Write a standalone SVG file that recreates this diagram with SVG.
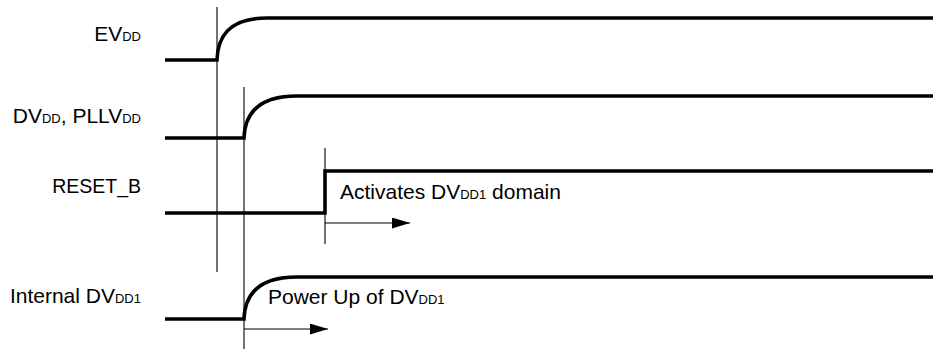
<svg xmlns="http://www.w3.org/2000/svg" width="933" height="349" viewBox="0 0 933 349">
  <style>
    .sig { fill: none; stroke: #000; stroke-width: 3.6; stroke-linejoin: miter; }
    .mark { fill: none; stroke: #000; stroke-width: 1.1; }
    .lbl { font-family: "Liberation Sans", Arial, sans-serif; font-size: 21px; fill: #000; }
    .sub { font-size: 13px; }
  </style>
  <defs>
    <marker id="arrow" markerWidth="18" markerHeight="11" refX="18" refY="5.5" orient="auto" markerUnits="userSpaceOnUse">
      <path d="M0,0 L18,5.5 L0,11 Z" fill="#000"/>
    </marker>
  </defs>

  <rect width="933" height="349" fill="#fff"/>

  <!-- signal labels -->
  <g id="label-evdd">
    <text class="lbl" x="141" y="41" text-anchor="end">EV<tspan class="sub">DD</tspan></text>
  </g>
  <g id="label-dvdd">
    <text class="lbl" x="141" y="123" text-anchor="end">DV<tspan class="sub">DD</tspan>, PLLV<tspan class="sub">DD</tspan></text>
  </g>
  <g id="label-reset">
    <text class="lbl" x="141" y="193" text-anchor="end" style="font-size:19.5px">RESET_B</text>
  </g>
  <g id="label-internal">
    <text class="lbl" x="141" y="303" text-anchor="end">Internal DV<tspan class="sub">DD1</tspan></text>
  </g>

  <!-- waveforms -->
  <g id="wave-evdd">
    <path class="sig" d="M165,60 H217 C218,30 236,18 267,18 H933"/>
  </g>
  <g id="wave-dvdd">
    <path class="sig" d="M165,138 H244 C245,108 265,96 297,96 H933"/>
  </g>
  <g id="wave-reset">
    <path class="sig" d="M165,213 H325 V171 H933"/>
  </g>
  <g id="wave-internal">
    <path class="sig" d="M165,319 H244 C245,289 265,277 297,277 H933"/>
  </g>

  <!-- timing markers and arrows -->
  <g id="connectors">
    <line class="mark" x1="217" y1="7" x2="217" y2="272"/>
    <line class="mark" x1="244" y1="87" x2="244" y2="349"/>
    <line class="mark" x1="325" y1="148" x2="325" y2="244"/>
    <line class="mark" x1="325" y1="223" x2="410" y2="223" marker-end="url(#arrow)"/>
    <line class="mark" x1="244" y1="329" x2="328" y2="329" marker-end="url(#arrow)"/>
  </g>

  <g id="note-activates">
    <text class="lbl" x="340" y="199">Activates DV<tspan class="sub">DD1</tspan> domain</text>
  </g>
  <g id="note-powerup">
    <text class="lbl" x="268" y="304">Power Up of DV<tspan class="sub">DD1</tspan></text>
  </g>
</svg>
